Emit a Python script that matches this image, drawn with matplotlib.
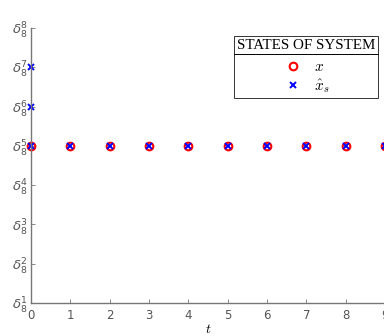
import numpy as np
import matplotlib.pyplot as plt
from matplotlib.lines import Line2D

# 系统状态数据
t_x = [0, 1, 2, 3, 4, 5, 6, 7, 8, 9]
x_state = [5, 5, 5, 5, 5, 5, 5, 5, 5, 5]
t_xs = [0, 0, 0, 1, 2, 3, 4, 5, 6, 7, 8, 9]
xs_state = [7, 6, 5, 5, 5, 5, 5, 5, 5, 5, 5, 5]
y_ticks = [1, 2, 3, 4, 5, 6, 7, 8]
x_ticks = [0, 1, 2, 3, 4, 5, 6, 7, 8, 9]

plt.rcParams['mathtext.fontset'] = 'cm'
gray = '#555555'

fig = plt.figure(figsize=(3.84, 3.36), dpi=100)
ax = fig.add_axes([31/384, 1 - 303/336, 354/384, 275/336])

ax.plot(t_x, x_state, 'o', mfc='none', mec='red', ms=5.5, mew=1.5, label=r'$x$', clip_on=False)
ax.plot(t_xs, xs_state, 'x', color='blue', ms=4, mew=1.4, label=r'$\hat{x}_s$', clip_on=False)

ax.set_xlim(0, 9)
ax.set_ylim(1, 8)
ax.set_xticks(x_ticks)
ax.set_yticks(y_ticks)
ax.set_yticklabels([r'$\delta_8^{%d}$' % k for k in y_ticks])
for lab in ax.get_yticklabels():
    lab.set_math_fontfamily('dejavusans')
    lab.set_fontsize(9.5)
ax.tick_params(direction='in', colors='#777777', labelcolor=gray, length=3, width=0.6)
ax.tick_params(axis='x', labelsize=8.5, pad=4)
ax.tick_params(axis='y', pad=2)
for s in ['top', 'right']:
    ax.spines[s].set_visible(False)
for s in ['left', 'bottom']:
    ax.spines[s].set_color('#777777')
    ax.spines[s].set_linewidth(1.0)
ax.set_xlabel(r'$t$', fontsize=10, labelpad=0)

leg = ax.legend(title='STATES OF SYSTEM', loc='upper right',
                bbox_to_anchor=(378/384, 1 - 36/336), bbox_transform=fig.transFigure,
                borderaxespad=0, frameon=True, fancybox=False, edgecolor='black',
                fontsize=11, handletextpad=0.6, borderpad=0.2, labelspacing=0.2,
                handlelength=1.5)
leg.get_title().set_fontfamily('Liberation Serif')
leg.get_title().set_fontsize(10.8)
leg.get_frame().set_linewidth(0.7)
leg._legend_box.align = 'center'
leg._legend_box.sep = 5

# 图例标题下的分隔线
fig.canvas.draw()
r = fig.canvas.get_renderer()
lb = leg.get_window_extent(r)
tb = leg.get_title().get_window_extent(r)
yline = tb.y0 - 2
fig.add_artist(Line2D([lb.x0 / 384, lb.x1 / 384], [yline / 336, yline / 336],
                      transform=fig.transFigure, color='black', lw=0.7))

plt.savefig('out.png', dpi=100)
